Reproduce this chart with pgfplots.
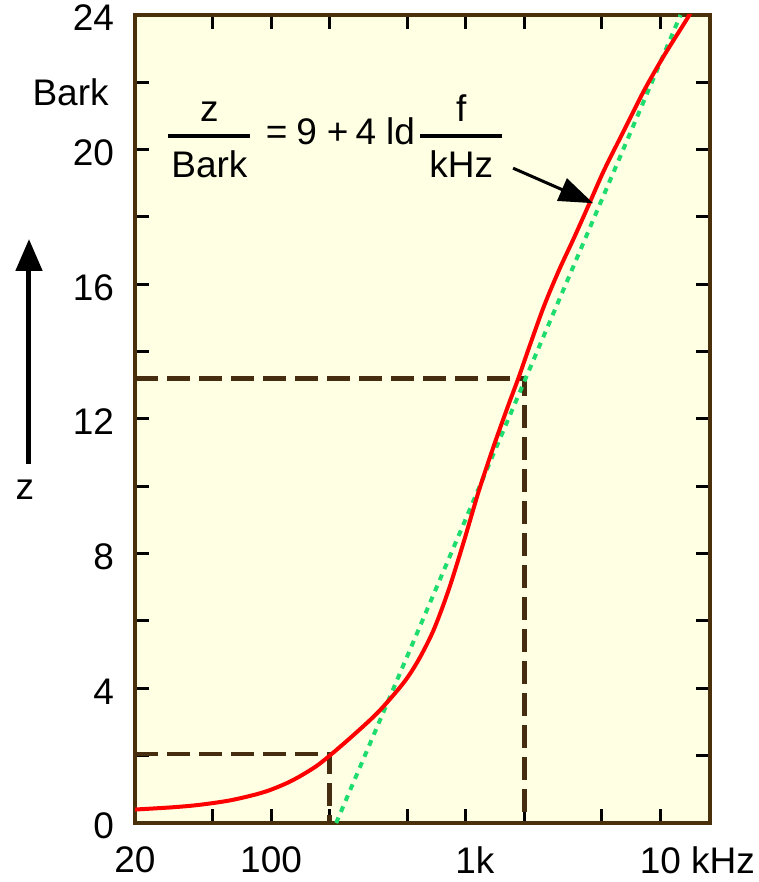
\documentclass[border=0pt]{standalone}
\usepackage{amsmath}
\usepackage{pgfplots}
\pgfplotsset{compat=1.18}
\usepackage{fontspec}
\setmainfont{Liberation Sans}
\usetikzlibrary{arrows.meta,calc}
\definecolor{bgy}{RGB}{255,255,228}
\definecolor{frame}{RGB}{75,48,12}
\definecolor{dashc}{RGB}{70,45,15}
\definecolor{grn}{RGB}{30,220,110}
\begin{document}
\begin{tikzpicture}[font=\fontsize{18.5}{22}\selectfont]
\begin{axis}[
  name=ax,
  xmode=log, scale only axis, width=287.5pt, height=404pt,
  xmin=20, xmax=18000, ymin=0, ymax=24,
  axis background/.style={fill=bgy},
  axis line style={draw=frame, line width=2pt},
  xtick={20,50,100,200,500,1000,2000,5000,10000},
  xticklabels={20,,100,,,1\rlap{k},,,10\rlap{ kHz}},
  ytick={0,2,...,24},
  yticklabels={0,,4,,8,,12,,16,,20,,24},
  minor tick num=0,
  tick align=inside,
  major tick length=7pt,
  tick style={black, line width=1.5pt},
  /pgf/number format/assume math mode=true,
  xticklabel style={yshift=-8.5pt},
  yticklabel style={xshift=-7pt, yshift=-1.5pt},
  clip=true,
]
% dashed guide lines
\addplot[dashc, line width=2.4pt, dash pattern=on 11.5pt off 4.5pt] coordinates {(20,2.05) (200,2.05) (200,0)};
\addplot[dashc, line width=2.4pt, dash pattern=on 11.5pt off 4.5pt] coordinates {(20,13.2) (2000,13.2) (2000,0)};
% approximation line
\addplot[grn, line width=2pt, dash pattern=on 3pt off 3pt] coordinates {(216,0) (12700,24)};
% critical-band rate curve
\addplot[red, line width=2pt, smooth, tension=0.5] coordinates {
(20,0.40) (30,0.46) (40,0.52) (50,0.59) (60,0.66) (70,0.74) (85,0.86) (100,0.99)
(120,1.18) (140,1.38) (170,1.68) (200,2.0)
(265,2.61) (356,3.30) (479,4.16) (572,4.84) (684,5.73) (817,6.92) (977,8.35)
(1166,9.85) (1394,11.2) (1666,12.45) (1876,13.25) (2110,14.1) (2524,15.35)
(3016,16.42) (3602,17.38) (4303,18.38) (5141,19.39) (6518,20.58) (8275,21.77)
(10490,22.81) (14100,24.0) (15500,24.5)};
% formula and arrow
\node[anchor=base west, inner sep=0pt] at (axis cs:28.7,20.14)
  {$\genfrac{}{}{2pt}{0}{\mbox{z}}{\mbox{\hspace{1.5pt}Bark\hspace{1.5pt}}}\mbox{\hspace{6.5pt}=\hspace{4.5pt}9\hspace{5pt}+\hspace{3.5pt}4\hspace{5pt}ld\hspace{1.5pt}}\genfrac{}{}{2pt}{0}{\mbox{f}}{\mbox{\hspace{4.5pt}kHz\hspace{4.5pt}}}$};
\draw[black, line width=1.5pt, -{Triangle[length=17pt,width=12pt]}] (axis cs:1752,19.45) -- (axis cs:4514,18.41);
\coordinate (O) at (rel axis cs:0,0);
\end{axis}
% y unit and axis arrow
\node[anchor=east, inner sep=0pt] at ($(O)+(-13pt,21.7*16.8333pt)$) {Bark};
\draw[black, line width=2.5pt, -{Triangle[length=16pt,width=13pt]}] ($(O)+(-53pt,179.5pt)$) -- ($(O)+(-53pt,292pt)$);
\node at ($(O)+(-55pt,166.5pt)$) {z};
\pgfresetboundingbox
\path[use as bounding box] ($(O)+(-67.5pt,-29.5pt)$) rectangle ($(O)+(312pt,411.5pt)$);
\end{tikzpicture}
\end{document}
